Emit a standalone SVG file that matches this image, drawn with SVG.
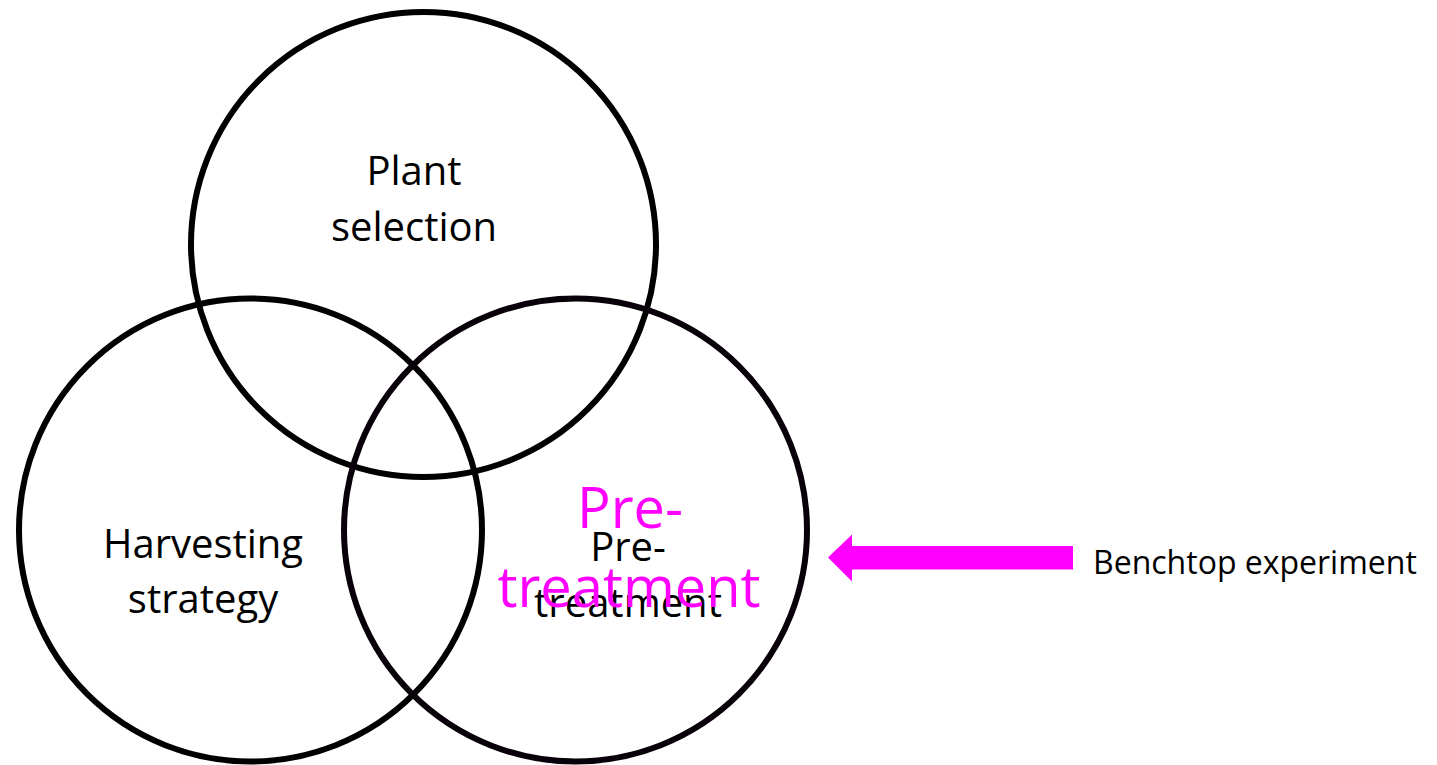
<svg xmlns="http://www.w3.org/2000/svg" width="1437" height="765" viewBox="0 0 1437 765">
<style>
.c{fill:none;stroke:#000;stroke-width:6}
.t{font-family:"Open Sans","Liberation Sans",sans-serif;font-size:40px;fill:#000;text-anchor:middle}
.m{font-family:"Open Sans","Liberation Sans",sans-serif;font-size:56px;fill:#ff00ff;text-anchor:middle}
.b{font-family:"Open Sans","Liberation Sans",sans-serif;font-size:32px;fill:#000}
</style>
<rect width="1437" height="765" fill="#fff"/>
<g id="plant-selection">
<circle class="c" cx="423.5" cy="244.5" r="232.5"/>
<text class="t" x="414" y="185">Plant</text>
<text class="t" x="414" y="241">selection</text>
</g>
<g id="harvesting-strategy">
<circle class="c" cx="250.5" cy="530" r="231.5"/>
<text class="t" x="203" y="558">Harvesting</text>
<text class="t" x="203" y="613">strategy</text>
</g>
<g id="pre-treatment">
<circle class="c" cx="575.5" cy="530" r="231.5" style="stroke:#080008"/>
<text class="t" x="628" y="561">Pre-</text>
<text class="t" x="628" y="617">treatment</text>
<text class="m" x="630" y="528">Pre-</text>
<text class="m" x="629" y="607">treatment</text>
</g>
<g id="connectors">
<polygon points="828,557.5 852,534.5 852,546 1073,546 1073,569.5 852,569.5 852,581.5" fill="#ff00ff"/>
</g>
<g id="benchtop-experiment">
<text class="b" x="1093" y="574">Benchtop experiment</text>
</g>
</svg>
